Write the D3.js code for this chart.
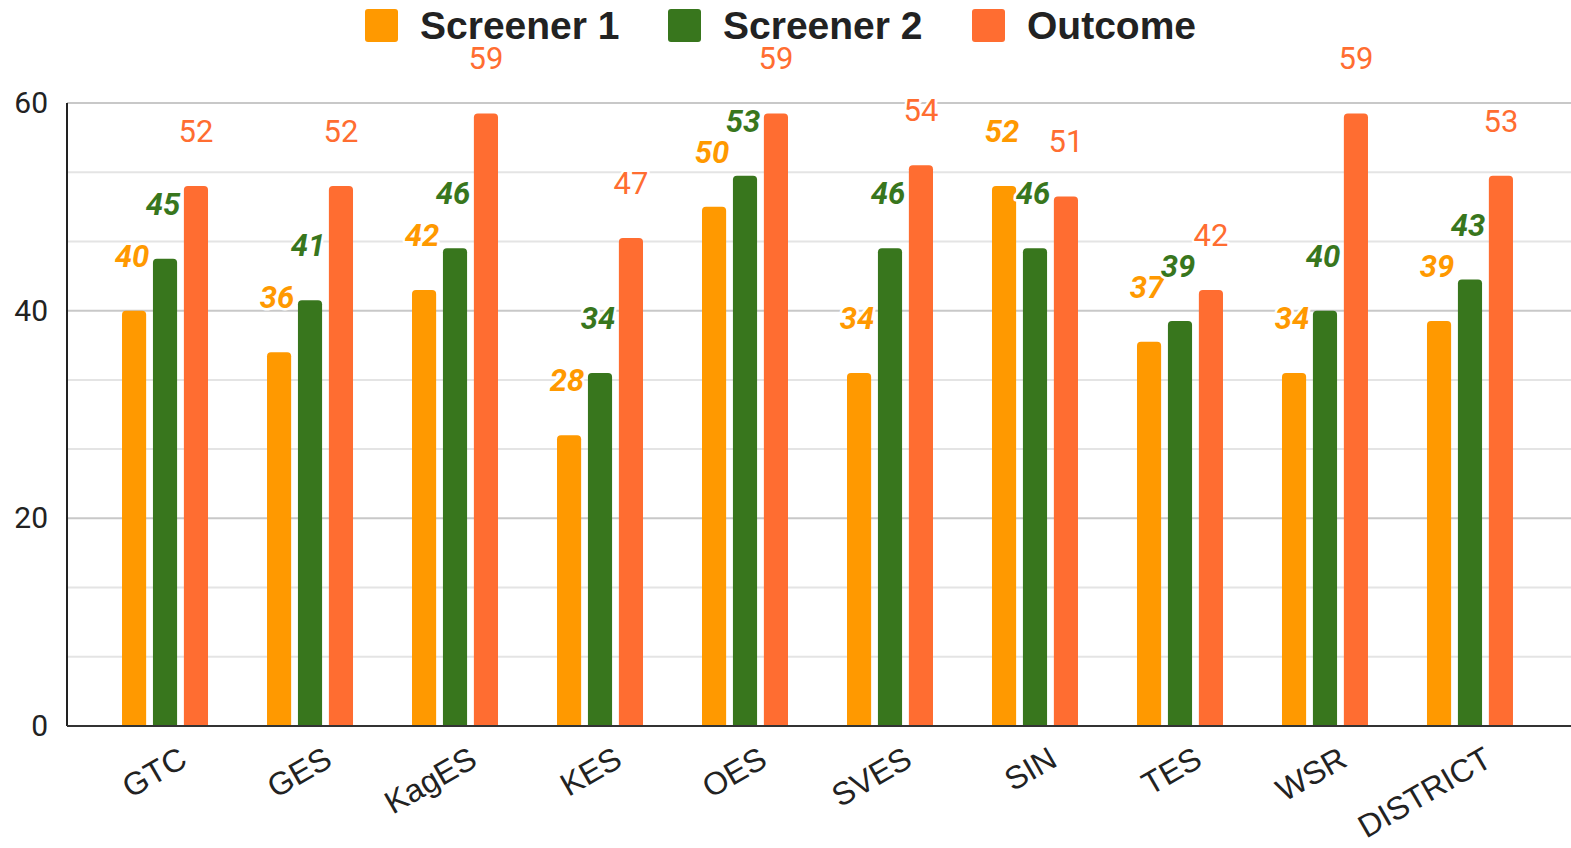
<!DOCTYPE html>
<html>
<head>
<meta charset="utf-8">
<script src="https://cdn.jsdelivr.net/npm/d3@7"></script>
<style>
  body { margin: 0; background: #fff; }
  svg { display: block; }
</style>
</head>
<body>
<script>
let width = 1571
let height = 848

// data
let schools = ["GTC", "GES", "KagES", "KES", "OES", "SVES", "SIN", "TES", "WSR", "DISTRICT"]
let seriesNames = ["Screener 1", "Screener 2", "Outcome"]
let screener1 = [40, 36, 42, 28, 50, 34, 52, 37, 34, 39]
let screener2 = [45, 41, 46, 34, 53, 46, 46, 39, 40, 43]
let outcome = [52, 52, 59, 47, 59, 54, 51, 42, 59, 53]
let yTicks = [0, 20, 40, 60]
let yMinor = [6.667, 13.333, 26.667, 33.333, 46.667, 53.333]

let colors = ["#ff9900", "#38761d", "#ff6d31"]
let values = [screener1, screener2, outcome]

let svg = d3.select("body")
    .append("svg")
    .attr("width", width)
    .attr("height", height)

let plotLeft = 67, plotRight = 1568, plotTop = 103, plotBottom = 726

let x = d3.scaleBand()
    .domain(schools)
    .range([plotLeft, plotRight])
    .paddingInner(0)
    .paddingOuter(0.176)

let xSub = d3.scaleBand()
    .domain(seriesNames)
    .range([-43, 43])
    .paddingInner(0.22)

let y = d3.scaleLinear()
    .domain([0, 60])
    .range([plotBottom, plotTop])

// gridlines
svg.append("g")
    .selectAll("line")
    .data(yMinor)
    .enter()
    .append("line")
    .attr("x1", plotLeft).attr("x2", width)
    .attr("y1", d => y(d)).attr("y2", d => y(d))
    .attr("stroke", "#e4e4e4")
    .attr("stroke-width", 2)

svg.append("g")
    .selectAll("line")
    .data(yTicks.filter(d => d > 0))
    .enter()
    .append("line")
    .attr("x1", plotLeft).attr("x2", width)
    .attr("y1", d => y(d)).attr("y2", d => y(d))
    .attr("stroke", "#c8c8c8")
    .attr("stroke-width", 2)

// y tick labels
svg.append("g")
    .selectAll("text")
    .data(yTicks)
    .enter()
    .append("text")
    .attr("x", 48)
    .attr("y", d => y(d) + 10)
    .attr("text-anchor", "end")
    .attr("font-family", "Roboto, sans-serif")
    .attr("font-size", 30)
    .attr("fill", "#222")
    .text(d => d)

// rounded-top bar
function barPath(x0, w, y0, y1) {
    let r = 4
    return `M${x0},${y1} V${y0 + r} Q${x0},${y0} ${x0 + r},${y0} H${x0 + w - r} Q${x0 + w},${y0} ${x0 + w},${y0 + r} V${y1} Z`
}

let rows = []
schools.forEach((s, i) => {
    seriesNames.forEach((n, j) => {
        rows.push({ school: s, series: n, value: values[j][i], color: colors[j], k: j })
    })
})

svg.append("g")
    .selectAll("path")
    .data(rows)
    .enter()
    .append("path")
    .attr("fill", d => d.color)
    .attr("d", d => {
        let bx = x(d.school) + x.bandwidth() / 2 + xSub(d.series)
        return barPath(bx, xSub.bandwidth(), y(d.value), y(0))
    })

// axis lines
svg.append("line")
    .attr("x1", plotLeft).attr("x2", plotLeft)
    .attr("y1", plotTop).attr("y2", plotBottom)
    .attr("stroke", "#222").attr("stroke-width", 2)
svg.append("line")
    .attr("x1", plotLeft).attr("x2", width)
    .attr("y1", plotBottom).attr("y2", plotBottom)
    .attr("stroke", "#333").attr("stroke-width", 2)

// data labels
svg.append("g")
    .selectAll("text")
    .data(rows)
    .enter()
    .append("text")
    .attr("x", d => x(d.school) + x.bandwidth() / 2 + xSub(d.series) + xSub.bandwidth() / 2 - (d.k < 2 ? 2 : 0))
    .attr("y", d => y(d.value) - 44)
    .attr("text-anchor", "middle")
    .attr("font-family", "Roboto, sans-serif")
    .attr("font-size", 31)
    .attr("font-weight", d => d.k < 2 ? "bold" : "normal")
    .attr("font-style", d => d.k < 2 ? "italic" : "normal")
    .attr("fill", d => d.color)
    .attr("stroke", "#fff")
    .attr("stroke-width", 5)
    .attr("stroke-linejoin", "round")
    .attr("paint-order", "stroke")
    .text(d => d.value)

// x labels
svg.append("g")
    .selectAll("text")
    .data(schools)
    .enter()
    .append("text")
    .attr("transform", d => `translate(${x(d) + x.bandwidth() / 2 + 24},765) rotate(-30)`)
    .attr("text-anchor", "end")
    .attr("font-family", "'Liberation Sans', Arial, sans-serif")
    .attr("font-size", 32)
    .attr("fill", "#222")
    .text(d => d)

// legend
let legendX = [365, 668, 972]
let legend = svg.append("g")
seriesNames.forEach((n, j) => {
    legend.append("rect")
        .attr("x", legendX[j]).attr("y", 9)
        .attr("width", 33).attr("height", 33)
        .attr("rx", 3)
        .attr("fill", colors[j])
    legend.append("text")
        .attr("x", legendX[j] + 55)
        .attr("y", 39)
        .attr("font-family", "'Liberation Sans', Arial, sans-serif")
        .attr("font-weight", "bold")
        .attr("font-size", 39)
        .attr("fill", "#222")
        .text(n)
})
</script>
</body>
</html>
